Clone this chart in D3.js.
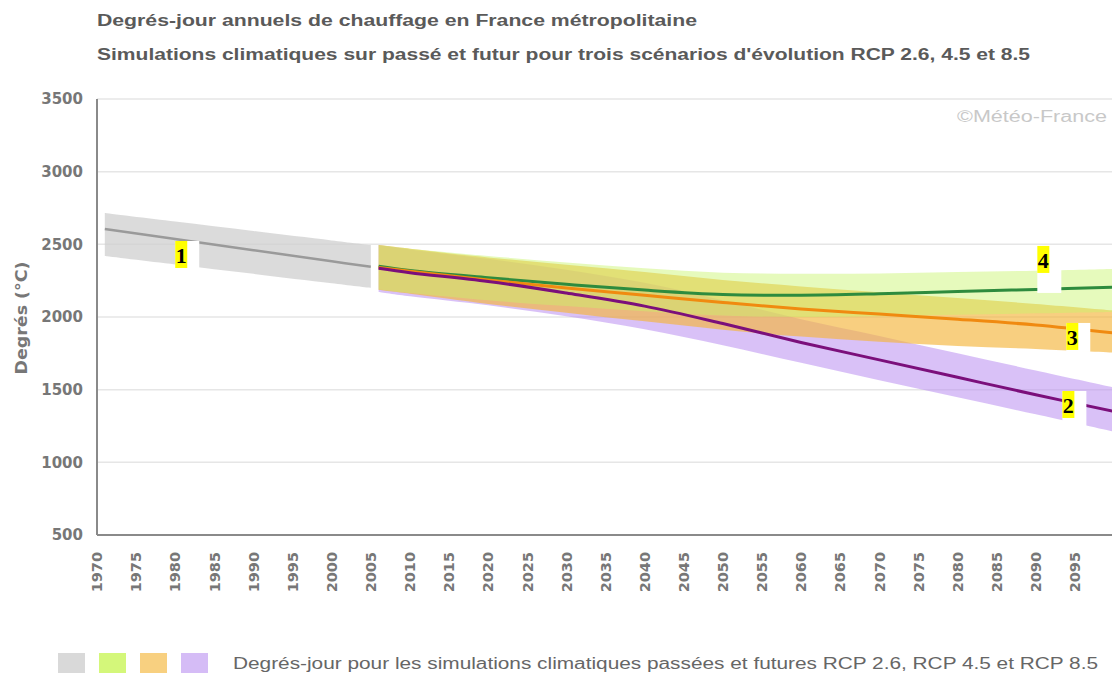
<!DOCTYPE html>
<html>
<head>
<meta charset="utf-8">
<style>
html, body { margin:0; padding:0; background:#fff; }
svg { display:block; }
</style>
</head>
<body>
<div id="chart"></div>
<script src="https://cdn.jsdelivr.net/npm/d3@7"></script>
<script>
// --- data ---
const titleLines = [
  "Degrés-jour annuels de chauffage en France métropolitaine",
  "Simulations climatiques sur passé et futur pour trois scénarios d'évolution RCP 2.6, 4.5 et 8.5"
];
const yTicks = [500, 1000, 1500, 2000, 2500, 3000, 3500];
const xTicks = d3.range(1970, 2100, 5);

const histYears = [1971, 1980, 1990, 2000, 2005];
const histMean  = [2605, 2536, 2460, 2383, 2345];
const histHigh  = [2716, 2657, 2592, 2527, 2495];
const histLow   = [2420, 2362, 2297, 2232, 2200];

const futYears = [2006, 2010, 2020, 2030, 2040, 2050, 2060, 2070, 2080, 2090, 2100];
const rcp26Mean = [2350, 2320, 2270, 2225, 2185, 2155, 2150, 2160, 2175, 2190, 2205];
const rcp26High = [2495, 2470, 2420, 2375, 2335, 2305, 2298, 2300, 2310, 2318, 2330];
const rcp26Low  = [2190, 2165, 2115, 2075, 2040, 2010, 2000, 2005, 2015, 2025, 2035];

const rcp45Mean = [2340, 2315, 2255, 2200, 2150, 2100, 2055, 2020, 1985, 1945, 1890];
const rcp45High = [2495, 2470, 2410, 2360, 2310, 2255, 2210, 2170, 2130, 2090, 2045];
const rcp45Low  = [2185, 2160, 2090, 2030, 1970, 1912, 1865, 1830, 1800, 1780, 1755];

const rcp85Mean = [2335, 2305, 2245, 2165, 2075, 1955, 1825, 1705, 1585, 1465, 1350];
const rcp85High = [2495, 2465, 2400, 2325, 2235, 2115, 1985, 1870, 1750, 1632, 1515];
const rcp85Low  = [2172, 2142, 2080, 2005, 1915, 1805, 1685, 1565, 1448, 1330, 1210];

// numbered labels: [text, year, value, boxHeight]
const callouts = [["1", 1980, 2523, 27], ["4", 2090.2, 2489, 47], ["3", 2093.9, 1959, 29], ["2", 2093.4, 1491, 42]];

const legendText = "Degrés-jour pour les simulations climatiques passées et futures RCP 2.6, RCP 4.5 et RCP 8.5";
const legendColors = ["#d9d9d9", "#d4f77a", "#f8d080", "#d5bcf6"];

// --- layout ---
const W = 1112, H = 675;
const svg = d3.select("#chart").append("svg").attr("width", W).attr("height", H);

const x = d3.scaleLinear().domain([1970, 2100]).range([97, 1114]);
const y = d3.scaleLinear().domain([500, 3500]).range([535, 99]);

// titles
svg.selectAll(".title").data(titleLines).enter().append("text")
  .attr("x", 97).attr("y", (d, i) => 26 + i * 34)
  .attr("textLength", (d, i) => i ? 933 : 600)
  .attr("lengthAdjust", "spacingAndGlyphs")
  .style("font", "bold 16px 'Liberation Sans', Arial, sans-serif")
  .attr("fill", "#5a5a5a")
  .text(d => d);

// grid
svg.append("g").selectAll("line").data(yTicks.slice(1)).enter().append("line")
  .attr("x1", 97).attr("x2", W).attr("y1", d => y(d)).attr("y2", d => y(d))
  .attr("stroke", "#e6e6e6").attr("stroke-width", 1.5);

// y tick labels
svg.append("g").selectAll("text").data(yTicks).enter().append("text")
  .attr("x", 83).attr("y", d => y(d)).attr("dy", "0.36em")
  .attr("text-anchor", "end")
  .style("font", "bold 15px 'DejaVu Sans', sans-serif")
  .attr("fill", "#777")
  .text(d => d);

// y title
svg.append("text")
  .attr("transform", "translate(27,318) rotate(-90)")
  .attr("text-anchor", "middle")
  .attr("textLength", 113).attr("lengthAdjust", "spacingAndGlyphs")
  .style("font", "bold 15px 'DejaVu Sans', sans-serif")
  .attr("fill", "#777")
  .text("Degrés (°C)");

// x tick labels
svg.append("g").selectAll("text").data(xTicks).enter().append("text")
  .attr("transform", d => `translate(${x(d)},552) rotate(-90)`)
  .attr("dy", "0.36em")
  .attr("text-anchor", "end")
  .style("font", "bold 14.5px 'DejaVu Sans', sans-serif")
  .attr("fill", "#777")
  .text(d => d);

// copyright
svg.append("text")
  .attr("x", 957).attr("y", 122)
  .attr("textLength", 150).attr("lengthAdjust", "spacingAndGlyphs")
  .style("font", "16px 'Liberation Sans', Arial, sans-serif")
  .attr("fill", "#c8c8c8")
  .text("©Météo-France");

// bands & lines
const plot = svg.append("g");
const curve = d3.curveCatmullRom;

function band(years, lo, hi, fill, op) {
  const data = years.map((yr, i) => [yr, lo[i], hi[i]]);
  plot.append("path").datum(data)
    .attr("fill", fill).attr("fill-opacity", op)
    .attr("d", d3.area().curve(curve).x(d => x(d[0])).y0(d => y(d[1])).y1(d => y(d[2])));
}
function line(years, vals, color, w) {
  const data = years.map((yr, i) => [yr, vals[i]]);
  plot.append("path").datum(data)
    .attr("fill", "none").attr("stroke", color).attr("stroke-width", w)
    .attr("d", d3.line().curve(curve).x(d => x(d[0])).y(d => y(d[1])));
}

band(histYears, histLow, histHigh, "#cfcfcf", 0.75);
band(futYears, rcp85Low, rcp85High, "#b98ef0", 0.55);
band(futYears, rcp45Low, rcp45High, "#f4b53c", 0.65);
band(futYears, rcp26Low, rcp26High, "#c8f56a", 0.45);

line(histYears, histMean, "#9a9a9a", 2.5);
line(futYears, rcp26Mean, "#2e8b3e", 3);
line(futYears, rcp45Mean, "#f08a10", 3);
line(futYears, rcp85Mean, "#7b0f7b", 3);

// axes lines
svg.append("line").attr("x1", 97).attr("x2", 97).attr("y1", y(3500)).attr("y2", y(500))
  .attr("stroke", "#8a8a8a").attr("stroke-width", 2);
svg.append("line").attr("x1", 97).attr("x2", W).attr("y1", y(500)).attr("y2", y(500))
  .attr("stroke", "#8a8a8a").attr("stroke-width", 2);

// numbered callouts
const cg = svg.append("g").selectAll("g").data(callouts).enter().append("g")
  .attr("transform", d => `translate(${x(d[1])},${y(d[2])})`);
cg.append("rect").attr("width", 24).attr("height", d => d[3]).attr("fill", "#fff");
cg.append("rect").attr("width", 12).attr("height", 27).attr("fill", "#ffff00");
cg.append("text").attr("x", 6).attr("y", 22).attr("text-anchor", "middle")
  .style("font", "bold 22px 'Liberation Serif', 'Times New Roman', serif")
  .attr("fill", "#000")
  .text(d => d[0]);

// legend
svg.append("g").selectAll("rect").data(legendColors).enter().append("rect")
  .attr("x", (d, i) => 58 + i * 41).attr("y", 653).attr("width", 27).attr("height", 20)
  .attr("fill", d => d);
svg.append("text")
  .attr("x", 233).attr("y", 669)
  .attr("textLength", 865).attr("lengthAdjust", "spacingAndGlyphs")
  .style("font", "16px 'Liberation Sans', Arial, sans-serif")
  .attr("fill", "#666")
  .text(legendText);
</script>
</body>
</html>
